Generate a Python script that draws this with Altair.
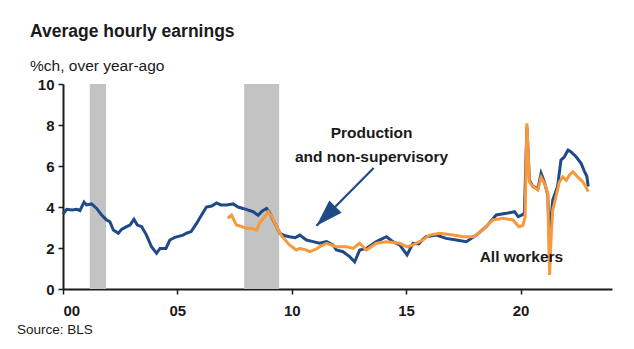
import altair as alt
import pandas as pd

# ---- data ----
blue_t = [2000.0, 2000.16, 2000.4, 2000.6, 2000.74, 2000.92, 2001.03, 2001.25, 2001.47, 2001.69,
          2001.9, 2002.05, 2002.2, 2002.42, 2002.56, 2002.78, 2002.93, 2003.1, 2003.25, 2003.44,
          2003.65, 2003.87, 2004.09, 2004.24, 2004.5, 2004.67, 2004.89, 2005.25, 2005.4, 2005.6,
          2005.84, 2006.05, 2006.27, 2006.5, 2006.71, 2006.9, 2007.15, 2007.44, 2007.65, 2007.87,
          2008.1, 2008.31, 2008.53, 2008.7, 2008.9, 2009.05, 2009.18, 2009.48, 2009.7, 2009.9,
          2010.15, 2010.35, 2010.64, 2010.93, 2011.22, 2011.52, 2011.8, 2011.95, 2012.24, 2012.53,
          2012.75, 2012.97, 2013.26, 2013.7, 2014.14, 2014.42, 2014.72, 2015.04, 2015.3, 2015.55,
          2015.73, 2015.88, 2016.32, 2016.75, 2017.19, 2017.63, 2018.07, 2018.5, 2018.94, 2019.38,
          2019.74, 2019.9, 2020.05, 2020.17, 2020.28, 2020.39, 2020.54, 2020.76, 2020.9, 2021.05,
          2021.19, 2021.27, 2021.35, 2021.41, 2021.62, 2021.77, 2021.92, 2022.0, 2022.08, 2022.2,
          2022.43, 2022.65, 2022.8, 2022.9, 2022.96]
blue_v = [3.65, 3.89, 3.85, 3.89, 3.83, 4.24, 4.1, 4.15, 3.93, 3.61,
          3.37, 3.28, 2.88, 2.72, 2.91, 3.04, 3.12, 3.4, 3.12, 3.04,
          2.63, 2.06, 1.74, 1.98, 1.98, 2.39, 2.52, 2.63, 2.72, 2.8,
          3.2, 3.6, 4.0, 4.05, 4.2, 4.1, 4.1, 4.15, 4.0, 3.93,
          3.85, 3.77, 3.6, 3.8, 3.93, 3.7, 3.37, 2.72, 2.6, 2.55,
          2.5, 2.63, 2.39, 2.31, 2.23, 2.31, 2.15, 1.9, 1.82, 1.58,
          1.33, 1.9, 1.98, 2.31, 2.55, 2.31, 2.15, 1.66, 2.23, 2.2,
          2.42, 2.55, 2.63, 2.47, 2.39, 2.31, 2.63, 3.04, 3.61, 3.69,
          3.77, 3.53, 3.6, 3.7, 7.9, 5.3, 5.0, 4.9, 5.64, 5.2,
          4.6, 2.3, 3.6, 4.34, 5.0, 6.29, 6.45, 6.62, 6.78, 6.7,
          6.45, 6.13, 5.72, 5.5, 5.0]

orange_t = [2007.2, 2007.37, 2007.58, 2007.8, 2008.02, 2008.25, 2008.46, 2008.6, 2008.8, 2008.97,
            2009.1, 2009.26, 2009.55, 2009.9, 2010.2, 2010.35, 2010.64, 2010.79, 2011.07, 2011.22,
            2011.52, 2011.95, 2012.39, 2012.68, 2012.97, 2013.26, 2013.7, 2014.14, 2014.72, 2015.04,
            2015.3, 2015.73, 2016.03, 2016.46, 2017.05, 2017.49, 2017.95, 2018.35, 2018.79, 2019.23,
            2019.67, 2019.93, 2020.1, 2020.2, 2020.28, 2020.39, 2020.54, 2020.76, 2020.9, 2021.05,
            2021.19, 2021.27, 2021.35, 2021.41, 2021.55, 2021.7, 2021.85, 2022.0, 2022.14, 2022.29,
            2022.5, 2022.72, 2022.85, 2022.96]
orange_v = [3.45, 3.6, 3.12, 3.05, 2.96, 2.95, 2.88, 3.2, 3.5, 3.77,
            3.6, 3.2, 2.6, 2.15, 1.9, 1.98, 1.9, 1.82, 1.95, 2.06,
            2.23, 2.06, 2.06, 1.98, 2.23, 1.9, 2.23, 2.31, 2.23, 2.06,
            2.15, 2.39, 2.63, 2.72, 2.63, 2.55, 2.55, 2.88, 3.37, 3.45,
            3.37, 3.04, 3.1, 3.5, 8.08, 5.23, 5.0, 4.83, 5.45, 5.15,
            4.67, 0.68, 2.8, 3.85, 4.5, 5.23, 5.47, 5.3, 5.56, 5.72,
            5.47, 5.23, 5.0, 4.75]

rec_start = [2001.17, 2007.92]
rec_end = [2001.88, 2009.45]

x_ticks = [2000, 2005, 2010, 2015, 2020]
y_ticks = [0, 2, 4, 6, 8, 10]

BLUE = "#1f4a87"
ORANGE = "#f7993c"
INK = "#1a1a1a"
FONT = "Liberation Sans"

blue_df = pd.DataFrame({"t": blue_t, "v": blue_v})
orange_df = pd.DataFrame({"t": orange_t, "v": orange_v})
rec_df = pd.DataFrame({"s": rec_start, "e": rec_end})

xs = alt.Scale(domain=[2000, 2024], nice=False, zero=False)
ys = alt.Scale(domain=[0, 10], nice=False)

x_axis = alt.Axis(values=x_ticks, labelExpr="substring(toString(datum.value), 2, 4)",
                  title=None, grid=False, domainColor=INK, domainWidth=2, tickColor=INK,
                  tickWidth=1.5, tickSize=5, labelFont=FONT, labelFontSize=15,
                  labelFontWeight="bold", labelColor=INK, labelPadding=9)
y_axis = alt.Axis(values=y_ticks, title=None, grid=False, domainColor=INK, domainWidth=2,
                  tickColor=INK, tickWidth=1.5, tickSize=5, labelFont=FONT, labelFontSize=15,
                  labelFontWeight="bold", labelColor=INK, labelPadding=4)

rec = alt.Chart(rec_df).mark_rect(color="#c3c3c3").encode(
    x=alt.X("s:Q", scale=xs, axis=x_axis), x2="e:Q",
    y=alt.value(0), y2=alt.value(205))

blue = alt.Chart(blue_df).mark_line(color=BLUE, strokeWidth=3).encode(
    x=alt.X("t:Q", scale=xs, axis=x_axis),
    y=alt.Y("v:Q", scale=ys, axis=y_axis))

orange = alt.Chart(orange_df).mark_line(color=ORANGE, strokeWidth=3).encode(
    x=alt.X("t:Q", scale=xs), y=alt.Y("v:Q", scale=ys))

arrow_df = pd.DataFrame({"x1": [2013.58], "y1": [5.9], "x2": [2011.08], "y2": [3.09]})
arrow_line = alt.Chart(arrow_df).mark_rule(color=BLUE, strokeWidth=2.2).encode(
    x=alt.X("x1:Q", scale=xs), y=alt.Y("y1:Q", scale=ys), x2="x2:Q", y2="y2:Q")
arrow_head = alt.Chart(arrow_df).mark_point(
    shape="M0,0 L-0.55,1.7 L0.55,1.7 Z", filled=True, color=BLUE, opacity=1,
    size=1000, angle=225).encode(x=alt.X("x2:Q", scale=xs), y=alt.Y("y2:Q", scale=ys))

ann_df = pd.DataFrame({"x": [2013.49, 2013.49, 2020.04], "y": [7.61, 6.44, 1.58],
                       "txt": ["Production", "and non-supervisory", "All workers"]})
ann = alt.Chart(ann_df).mark_text(font=FONT, fontSize=15.5, fontWeight="bold", color=INK,
                                  align="center", baseline="middle").encode(
    x=alt.X("x:Q", scale=xs), y=alt.Y("y:Q", scale=ys), text="txt:N")

title = alt.Chart(pd.DataFrame({"txt": ["Average hourly earnings"]})).mark_text(
    font=FONT, fontSize=17.5, fontWeight="bold", color=INK, align="left",
    baseline="alphabetic").encode(x=alt.value(-33), y=alt.value(-47), text="txt:N")
subtitle = alt.Chart(pd.DataFrame({"txt": ["%ch, over year-ago"]})).mark_text(
    font=FONT, fontSize=15.5, color=INK, align="left",
    baseline="alphabetic").encode(x=alt.value(-33), y=alt.value(-13), text="txt:N")
source = alt.Chart(pd.DataFrame({"txt": ["Source: BLS"]})).mark_text(
    font=FONT, fontSize=13.5, color=INK, align="left",
    baseline="alphabetic").encode(x=alt.value(-46), y=alt.value(250), text="txt:N")

chart = alt.layer(rec, blue, orange, arrow_line, arrow_head, ann, title, subtitle, source).properties(
    width=549, height=205,
    autosize=alt.AutoSizeParams(type="none"),
    padding={"left": 63, "top": 84, "right": 22, "bottom": 60},
    background="white",
).configure_view(stroke=None)

chart.save("out.html", embed_options={"renderer": "svg", "actions": False})
